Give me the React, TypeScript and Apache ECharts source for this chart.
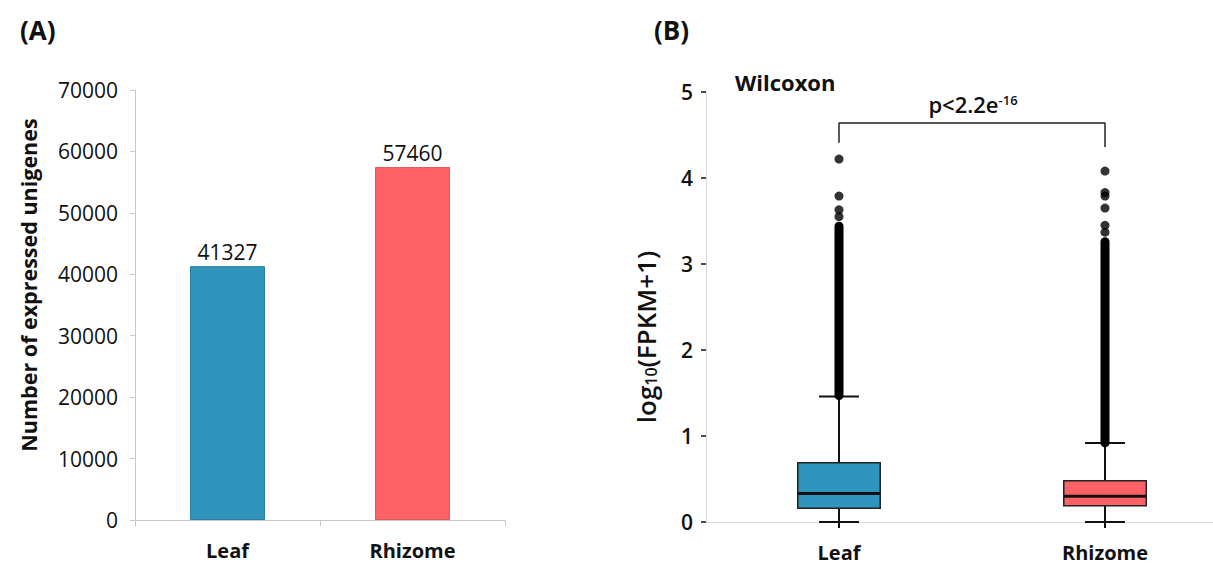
import React, { useEffect, useRef } from "react";
import * as echarts from "echarts";

const categories = ["Leaf", "Rhizome"];
const unigeneCounts = [41327, 57460];
const barColors = ["#3194BD", "#FF6266"];
const barBorders = ["#2a80a6", "#e0585b"];

// [min, Q1, median, Q3, upper whisker] of log10(FPKM+1)
const leafBox = [0, 0.16, 0.33, 0.69, 1.46];
const rhizomeBox = [0, 0.19, 0.3, 0.48, 0.92];
const leafOutliers = [3.55, 3.63, 3.79, 4.22];
const rhizomeOutliers = [3.37, 3.45, 3.65, 3.79, 3.83, 4.08];
// extent of the dense (overlapping) outlier column
const leafDenseOutliers = [1.47, 3.44];
const rhizomeDenseOutliers = [0.92, 3.26];
// significance bracket: [left leg bottom, bar level, right leg bottom]
const bracketLevels = [4.41, 4.64, 4.36];

const FONT = "Open Sans";

export default function App() {
  const ref = useRef<HTMLDivElement>(null);
  useEffect(() => {
    if (!ref.current) return;
    const chart = echarts.init(ref.current, null, { renderer: "svg" });
    const boxes = [leafBox, rhizomeBox];
    const option: any = {
      animation: false,
      backgroundColor: "#ffffff",
      textStyle: { fontFamily: FONT },
      grid: [
        { left: 135, top: 90, width: 370, height: 430 },
        { left: 706, top: 92, width: 532, height: 430 },
      ],
      xAxis: [
        {
          type: "category",
          gridIndex: 0,
          data: categories,
          axisLine: { lineStyle: { color: "#c8c8c8", width: 1 } },
          axisTick: { show: true, length: 6, lineStyle: { color: "#c8c8c8" } },
          axisLabel: { color: "#111", fontSize: 20, fontWeight: "bold", margin: 20, fontFamily: FONT },
        },
        {
          type: "category",
          gridIndex: 1,
          data: categories,
          axisLine: { lineStyle: { color: "#dcdcdc", width: 1 } },
          axisTick: { show: true, alignWithLabel: true, length: 6, lineStyle: { color: "#111", width: 2 } },
          axisLabel: { color: "#111", fontSize: 20, fontWeight: "bold", margin: 20, fontFamily: FONT },
        },
      ],
      yAxis: [
        {
          type: "value",
          gridIndex: 0,
          min: 0,
          max: 70000,
          interval: 10000,
          axisLine: { show: true, lineStyle: { color: "#c8c8c8" } },
          axisTick: { show: true, length: 5, lineStyle: { color: "#c8c8c8" } },
          axisLabel: { color: "#111", fontSize: 21, margin: 17, fontFamily: FONT, formatter: (v: number) => String(v) },
          splitLine: { show: false },
        },
        {
          type: "value",
          gridIndex: 1,
          min: 0,
          max: 5,
          interval: 1,
          axisLine: { show: true, lineStyle: { color: "#dcdcdc" } },
          axisTick: { show: true, length: 5, lineStyle: { color: "#111", width: 1.5 } },
          axisLabel: { color: "#111", fontSize: 21, fontWeight: 600, margin: 13, fontFamily: FONT },
          splitLine: { show: false },
        },
      ],
      series: [
        {
          type: "bar",
          xAxisIndex: 0,
          yAxisIndex: 0,
          barWidth: 75,
          data: unigeneCounts.map((v, i) => ({
            value: v,
            itemStyle: { color: barColors[i], borderColor: barBorders[i], borderWidth: 1 },
          })),
          label: { show: true, position: "top", distance: 4, color: "#111", fontSize: 21, fontFamily: FONT },
        },
        {
          type: "custom",
          xAxisIndex: 1,
          yAxisIndex: 1,
          encode: { x: 0, y: [1, 2, 3, 4, 5] },
          data: boxes.map((b, i) => [i, ...b]),
          renderItem: (params: any, api: any) => {
            const x = api.value(0);
            const lo = api.coord([x, api.value(1)]);
            const q1 = api.coord([x, api.value(2)]);
            const md = api.coord([x, api.value(3)]);
            const q3 = api.coord([x, api.value(4)]);
            const hi = api.coord([x, api.value(5)]);
            const band = api.size([1, 0])[0];
            const bw = band * 0.31;
            const cw = band * 0.15;
            const stroke = "#111";
            return {
              type: "group",
              children: [
                { type: "line", shape: { x1: lo[0], y1: lo[1], x2: hi[0], y2: hi[1] }, style: { stroke, lineWidth: 2 } },
                { type: "line", shape: { x1: lo[0] - cw / 2, y1: lo[1], x2: lo[0] + cw / 2, y2: lo[1] }, style: { stroke, lineWidth: 2 } },
                { type: "line", shape: { x1: hi[0] - cw / 2, y1: hi[1], x2: hi[0] + cw / 2, y2: hi[1] }, style: { stroke, lineWidth: 2 } },
                {
                  type: "rect",
                  shape: { x: q3[0] - bw / 2, y: q3[1], width: bw, height: q1[1] - q3[1] },
                  style: { fill: barColors[params.dataIndex], stroke: "#222", lineWidth: 1.5 },
                },
                { type: "line", shape: { x1: md[0] - bw / 2, y1: md[1], x2: md[0] + bw / 2, y2: md[1] }, style: { stroke, lineWidth: 3 } },
              ],
            };
          },
          z: 2,
        },
        {
          type: "line",
          xAxisIndex: 1,
          yAxisIndex: 1,
          symbol: "none",
          data: leafDenseOutliers.map((v) => [0, v]),
          lineStyle: { color: "#000", width: 9, cap: "round" },
          z: 3,
        },
        {
          type: "line",
          xAxisIndex: 1,
          yAxisIndex: 1,
          symbol: "none",
          data: rhizomeDenseOutliers.map((v) => [1, v]),
          lineStyle: { color: "#000", width: 9, cap: "round" },
          z: 3,
        },
        {
          type: "scatter",
          xAxisIndex: 1,
          yAxisIndex: 1,
          symbolSize: 9,
          itemStyle: { color: "#000" },
          data: [...leafOutliers.map((v) => [0, v]), ...rhizomeOutliers.map((v) => [1, v])],
          z: 3,
        },
        {
          type: "line",
          xAxisIndex: 1,
          yAxisIndex: 1,
          symbol: "none",
          data: [
            [0, bracketLevels[0]],
            [0, bracketLevels[1]],
            [1, bracketLevels[1]],
            [1, bracketLevels[2]],
          ],
          lineStyle: { color: "#222", width: 1.5 },
          z: 3,
        },
      ],
      graphic: [
        { type: "text", x: 20, y: 30, style: { text: "(A)", fontSize: 26, fontWeight: "bold", fill: "#111", fontFamily: FONT, verticalAlign: "middle" } },
        { type: "text", x: 654, y: 30, style: { text: "(B)", fontSize: 26, fontWeight: "bold", fill: "#111", fontFamily: FONT, verticalAlign: "middle" } },
        { type: "text", x: 735, y: 82, style: { text: "Wilcoxon", fontSize: 22, fontWeight: "bold", fill: "#111", fontFamily: FONT, verticalAlign: "middle" } },
        {
          type: "text",
          x: 28,
          y: 285,
          rotation: Math.PI / 2,
          style: {
            text: "Number of expressed unigenes",
            align: "center",
            verticalAlign: "middle",
            fontSize: 21.5,
            fontWeight: "bold",
            fill: "#111",
            fontFamily: FONT,
          },
        },
        {
          type: "text",
          x: 646,
          y: 337,
          rotation: Math.PI / 2,
          style: {
            text: "{a|log}{b|10}{a|(FPKM+1)}",
            align: "center",
            verticalAlign: "middle",
            rich: {
              a: { fontSize: 26, fontWeight: 600, fill: "#111", fontFamily: FONT },
              b: { fontSize: 16, fontWeight: 600, fill: "#111", fontFamily: FONT, verticalAlign: "bottom" },
            },
          },
        },
        {
          type: "text",
          x: 973,
          y: 104,
          style: {
            text: "{a|p<2.2e}{b|-16}",
            align: "center",
            verticalAlign: "middle",
            rich: {
              a: { fontSize: 22, fontWeight: 600, fill: "#111", fontFamily: FONT },
              b: { fontSize: 13, fontWeight: 600, fill: "#111", fontFamily: FONT, verticalAlign: "top" },
            },
          },
        },
      ],
    };
    chart.setOption(option);
    return () => chart.dispose();
  }, []);
  return (
    <div style={{ position: "absolute", left: 0, top: 0, width: 1213, height: 564, overflow: "hidden" }}>
      <div ref={ref} style={{ width: 1250, height: 564 }} />
    </div>
  );
}
